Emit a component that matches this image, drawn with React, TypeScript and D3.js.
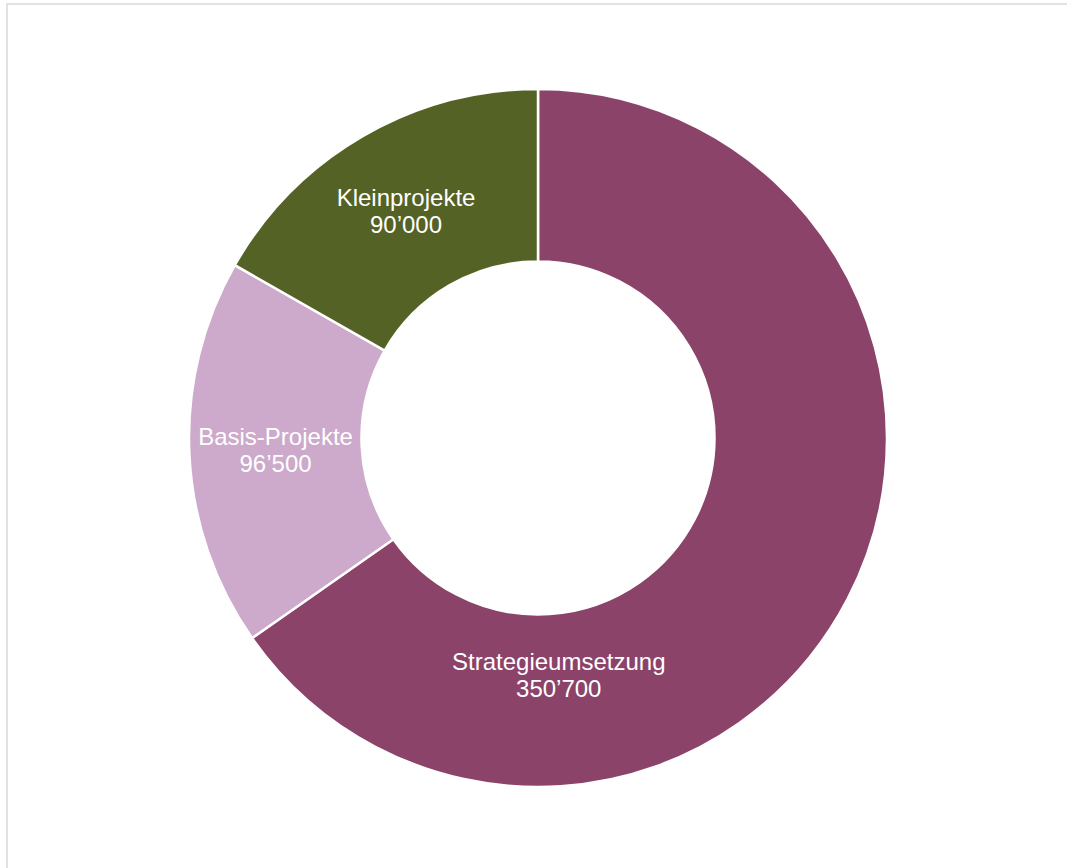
import * as d3 from 'd3';

const WIDTH = 1067;
const HEIGHT = 868;
const CENTER = { x: 538, y: 438 };
const OUTER_RADIUS = 349;
const INNER_RADIUS = 176.5;

const categories = ['Strategieumsetzung', 'Basis-Projekte', 'Kleinprojekte'];
const values = [350700, 96500, 90000];
const colors = ['#8b4369', '#cda9cb', '#546226'];

// Excel moved the big label by hand, so place it by angle/radius instead of the centroid
const LABEL_OVERRIDE: Record<string, { angle: number; radius: number }> = {
    Strategieumsetzung: { angle: (175 * Math.PI) / 180, radius: 238 },
};

const formatValue = (v: number) => d3.format(',')(v).replace(/,/g, '\u2019');

export default function App() {
    const data = categories.map((name, i) => ({ name, value: values[i], color: colors[i] }));

    const pie = d3
        .pie<{ name: string; value: number; color: string }>()
        .value((d) => d.value)
        .sort(null);

    const arc = d3
        .arc<d3.PieArcDatum<{ name: string; value: number; color: string }>>()
        .innerRadius(INNER_RADIUS)
        .outerRadius(OUTER_RADIUS);

    const slices = pie(data);

    return (
        <svg
            width={WIDTH}
            height={HEIGHT}
            style={{ position: 'absolute', left: 0, top: 0, background: '#fff' }}
            fontFamily="'Liberation Sans', Arial, sans-serif"
        >
            <rect x={7} y={4} width={WIDTH + 20} height={HEIGHT + 20} fill="#fff" stroke="#d9d9d9" strokeWidth={1.5} />
            <g transform={`translate(${CENTER.x},${CENTER.y})`}>
                {slices.map((s, i) => (
                    <path key={i} d={arc(s) ?? ''} fill={s.data.color} stroke="#fff" strokeWidth={2.5} />
                ))}
                {slices.map((s, i) => {
                    const o = LABEL_OVERRIDE[s.data.name];
                    const [cx, cy] = o
                        ? [Math.sin(o.angle) * o.radius, -Math.cos(o.angle) * o.radius]
                        : arc.centroid(s);
                    return (
                        <text key={i} x={cx} y={cy} textAnchor="middle" fill="#fff" fontSize={24}>
                            <tspan x={cx} dy={-13.75} dominantBaseline="central">
                                {s.data.name}
                            </tspan>
                            <tspan x={cx} dy={27.5} dominantBaseline="central">
                                {formatValue(s.data.value)}
                            </tspan>
                        </text>
                    );
                })}
            </g>
        </svg>
    );
}
